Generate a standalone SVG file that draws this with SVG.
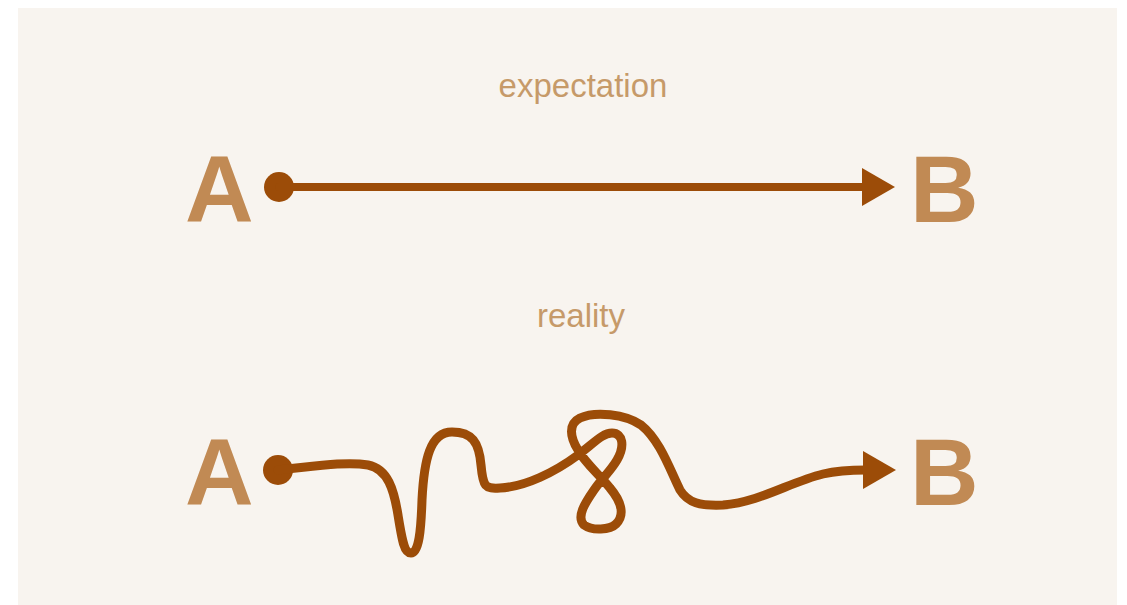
<svg xmlns="http://www.w3.org/2000/svg" width="1127" height="605" viewBox="0 0 1127 605">
  <style>
    .letter { font-family: "Liberation Sans", Arial, sans-serif; font-weight: bold; font-size: 95px; fill: #c18a54; }
    .label { font-family: "Liberation Sans", Arial, sans-serif; font-size: 33px; fill: #c69a69; text-anchor: middle; }
    .line { fill: none; stroke: #9c4c08; stroke-width: 8; stroke-linecap: round; stroke-linejoin: round; }
    .wiggle { stroke-width: 9; }
    .dot { fill: #9c4c08; }
    .head { fill: #9c4c08; }
  </style>
  <rect x="0" y="0" width="1127" height="605" fill="#ffffff"/>
  <rect x="18" y="8" width="1099" height="597" fill="#f8f4ef"/>

  <text class="label" x="583" y="97">expectation</text>
  <text class="label" x="581" y="327">reality</text>

  <g id="nodeA1"><text class="letter" x="185" y="222">A</text></g>
  <g id="nodeB1"><text class="letter" x="910" y="222">B</text></g>
  <g id="nodeA2"><text class="letter" x="185" y="505">A</text></g>
  <g id="nodeB2"><text class="letter" x="910" y="505">B</text></g>

  <g id="connectors">
    <circle class="dot" cx="279" cy="187" r="15"/>
    <line class="line" x1="279" y1="187" x2="866" y2="187"/>
    <polygon class="head" points="862,168 895,187 862,206"/>

    <circle class="dot" cx="278" cy="470" r="15"/>
    <path class="line wiggle" d="M278,470 C310,467 345,461 368,465 C388,469 394,490 398,515 C402,540 404,553 411,553 C419,553 421,530 422,500 C424,460 430,432 452,432 C472,432 479,442 481,465 C483,487 485,489 500,488 C525,487 555,472 578,455 C595,442 603,433 612,433 C623,433 625,446 617,460 C610,472 602,478 594,490 C585,503 576,517 584,525 C592,531 610,530 616,524 C626,514 620,500 610,488 C600,475 585,463 578,450 C570,437 568,424 580,418 C595,411 625,414 641,425 C660,440 670,470 680,490 C688,503 700,506 723,505 C760,502 790,482 823,474 C840,470 855,470 866,470"/>
    <polygon class="head" points="863,451 896,470 863,489"/>
  </g>
</svg>
